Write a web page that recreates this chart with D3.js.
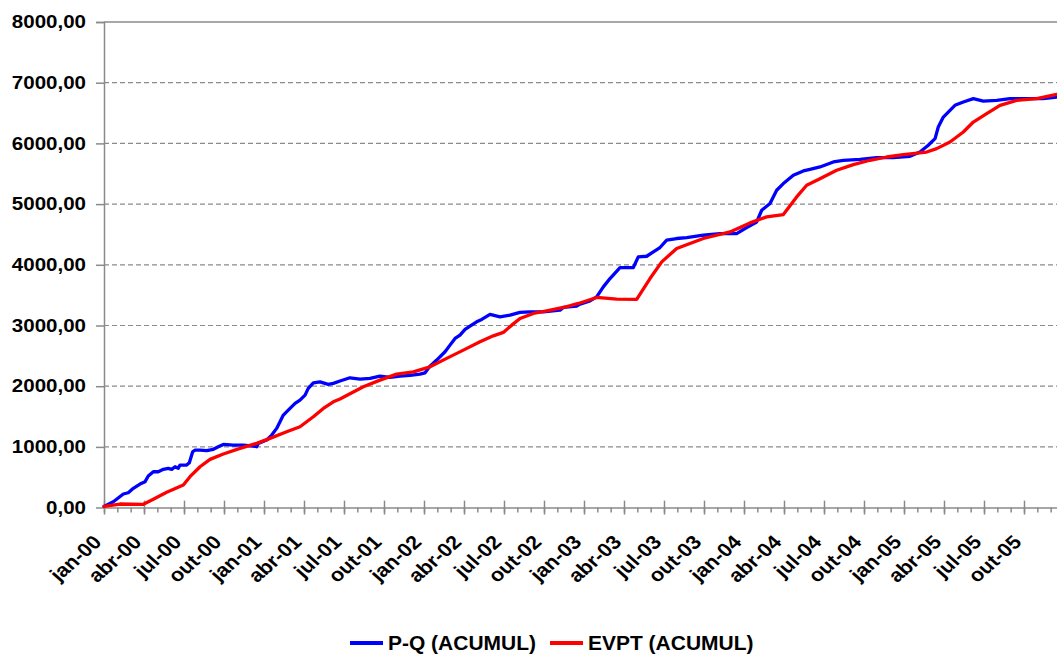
<!DOCTYPE html>
<html>
<head>
  <meta charset="utf-8">
  <script src="https://d3js.org/d3.v7.min.js"></script>
  <style>
    body {
      margin: 0;
      background: #fff;
      font-family: "Liberation Sans", Arial, sans-serif;
    }
    .axis path, .axis line { stroke: #8a8a8a; stroke-width: 1.5; }
    .axis text { font-weight: bold; fill: #000; }
    .grid line { stroke: #8a8a8a; stroke-width: 1.2; stroke-dasharray: 5,3; }
    .serie { fill: none; stroke-width: 3.3; stroke-linejoin: round; stroke-linecap: round; }
    .legend text { font-weight: bold; font-size: 19.5px; }
  </style>
</head>
<body>
  <script>
    // months since jan-00 (fractional) and accumulated values
    var pqMonth = [0, 0.7, 1.45, 1.82, 2.2, 2.7, 3.08, 3.32, 3.7, 4.07, 4.45, 4.82, 5.08, 5.33, 5.57, 5.7,
      6.2, 6.4, 6.65, 6.83, 7.2, 7.7, 8.2, 8.57, 8.95, 9.7, 10.45, 11.2, 11.45, 11.57, 12.2, 12.58,
      12.95, 13.45, 13.82, 14.33, 14.7, 15.08, 15.32, 15.7, 16.2, 16.82, 17.2, 17.7, 18.45, 19.2,
      19.95, 20.7, 21.45, 22.2, 22.95, 23.7, 24.08, 24.45, 24.95, 25.58, 25.95, 26.33, 26.7, 27.08,
      27.45, 27.95, 28.33, 28.95, 29.7, 30.45, 31.2, 31.95, 32.95, 34.2, 34.45, 35.45, 35.7, 36.45,
      36.95, 37.45, 37.95, 38.7, 39.7, 40.07, 40.7, 41.2, 41.7, 42.2, 42.95, 43.7, 44.95, 46.2,
      47.45, 48.2, 48.95, 49.33, 49.95, 50.45, 50.95, 51.7, 52.45, 52.95, 53.7, 54.7, 55.45, 56.7,
      57.95, 59.2, 60.45, 61.2, 61.82, 62.33, 62.57, 62.95, 63.45, 63.82, 64.45, 65.2, 65.95, 66.95,
      67.95, 69.2, 70.45, 71.45, 72];
    var pqValue = [20, 97, 224, 245, 318, 388, 427, 520, 591, 591, 630, 647, 630, 673, 647, 701,
      701, 739, 920, 948, 948, 937, 960, 1003, 1041, 1030, 1030, 1014, 1003, 1058, 1113, 1195,
      1305, 1524, 1607, 1717, 1771, 1853, 1964, 2056, 2072, 2030, 2046, 2085, 2139, 2117,
      2128, 2166, 2145, 2166, 2178, 2199, 2221, 2331, 2430, 2567, 2677, 2786, 2841, 2935,
      2989, 3060, 3100, 3182, 3143, 3170, 3215, 3225, 3225, 3253, 3297, 3319, 3351, 3406,
      3472, 3636, 3774, 3955, 3955, 4130, 4141, 4212, 4285, 4405, 4433, 4449, 4487, 4515,
      4515, 4614, 4706, 4899, 5009, 5228, 5338, 5475, 5546, 5572, 5612, 5694, 5722, 5738,
      5766, 5766, 5788, 5858, 5969, 6078, 6270, 6434, 6545, 6627, 6682, 6737, 6698, 6709,
      6737, 6737, 6737, 6764, 6770];

    var evptMonth = [0, 1.2, 2.95, 3.7, 4.7, 5.95, 6.45, 7.2, 7.95, 8.95, 10.2, 11.45, 12.45, 13.7,
      14.7, 15.7, 16.45, 17.2, 17.7, 19.45, 20.7, 21.95, 23.2, 24.45, 25.7, 26.95, 28.2, 29.2,
      29.95, 30.58, 31.2, 32.2, 33.2, 34.45, 35.58, 36.95, 38.45, 39.95, 40.95, 41.83, 42.95,
      44.95, 46.95, 48.45, 49.7, 50.95, 51.95, 52.7, 53.58, 53.95, 54.95, 56.2, 57.45, 58.7,
      59.95, 61.7, 62.45, 63.45, 64.45, 65.2, 66.2, 67.2, 68.45, 69.95, 71.45, 72];
    var evptValue = [20, 59, 54, 137, 252, 372, 509, 673, 795, 882, 976, 1058, 1141, 1250,
      1332, 1496, 1634, 1743, 1790, 1990, 2100, 2199, 2237, 2319, 2458, 2594, 2731, 2830,
      2886, 3006, 3116, 3198, 3241, 3297, 3363, 3462, 3434, 3429, 3774, 4048, 4268,
      4433, 4542, 4690, 4789, 4828, 5118, 5310, 5404, 5447, 5557, 5651, 5722, 5776,
      5815, 5858, 5914, 6023, 6188, 6352, 6490, 6627, 6709, 6737, 6807, 6815];

    var quarterLabels = ["jan-00", "abr-00", "jul-00", "out-00", "jan-01", "abr-01", "jul-01", "out-01",
      "jan-02", "abr-02", "jul-02", "out-02", "jan-03", "abr-03", "jul-03", "out-03",
      "jan-04", "abr-04", "jul-04", "out-04", "jan-05", "abr-05", "jul-05", "out-05"];
    var yTicks = [0, 1000, 2000, 3000, 4000, 5000, 6000, 7000, 8000];
    var seriesNames = ["P-Q (ACUMUL)", "EVPT (ACUMUL)"];
    var seriesColors = ["#0000ff", "#ff0000"];

    var w = 1057, h = 655;
    var plotLeft = 104, plotTop = 22, plotBottom = 507.6, plotRight = 1064;
    var stretch = 1.14; // the original text is drawn a bit wide

    var svg = d3.select("body").append("svg")
      .attr("width", w)
      .attr("height", h);

    var x = d3.scaleLinear().domain([0, 72]).range([plotLeft, plotRight]);
    var y = d3.scaleLinear().domain([0, 8000]).range([plotBottom, plotTop]);

    // dashed grid lines, solid one on top
    svg.append("g").attr("class", "grid")
      .selectAll("line")
      .data(yTicks.filter(function(d){ return d > 0; }))
      .enter().append("line")
        .attr("x1", plotLeft).attr("x2", plotRight)
        .attr("y1", function(d){ return y(d); })
        .attr("y2", function(d){ return y(d); })
        .style("stroke-dasharray", function(d){ return d == 8000 ? "none" : null; })
        .style("stroke-width", function(d){ return d == 8000 ? 1.5 : null; });

    // y axis
    var fmt = function(d){ return d3.format(".2f")(d).replace(".", ","); };
    svg.append("g").attr("class", "axis")
      .attr("transform", "translate(" + plotLeft + ",0)")
      .call(d3.axisLeft(y).tickValues(yTicks).tickSize(8).tickFormat(fmt))
      .call(function(g){
        g.selectAll("text")
          .style("font-size", "18px")
          .attr("x", 0)
          .attr("transform", "translate(-18,0) scale(" + stretch + ",1)");
      })
      .call(function(g){ g.selectAll(".tick").filter(function(d){ return d == 0; }).select("line").remove(); });

    // x axis: monthly minor ticks, quarterly major ticks
    var xg = svg.append("g").attr("class", "axis")
      .attr("transform", "translate(0," + plotBottom + ")");
    xg.call(d3.axisBottom(x).tickValues(d3.range(0, 72)).tickSize(5).tickSizeOuter(0).tickFormat(""));
    var xMajor = svg.append("g").attr("class", "axis")
      .attr("transform", "translate(0," + plotBottom + ")")
      .call(d3.axisBottom(x).tickValues(d3.range(0, 72, 3)).tickSize(7).tickSizeOuter(0)
        .tickFormat(function(d, i){ return quarterLabels[i]; }));
    xMajor.select(".domain").remove();
    xMajor.selectAll(".tick line").attr("y1", -7);
    xMajor.selectAll(".tick text")
      .style("font-size", "19px")
      .attr("text-anchor", "end")
      .attr("dy", "0.35em")
      .attr("transform", "translate(-7,31) scale(" + stretch + ",1) rotate(-45)")
      .attr("y", 0).attr("x", 0);

    // lines
    var series = [
      { month: pqMonth, value: pqValue },
      { month: evptMonth, value: evptValue }
    ];
    var line = d3.line()
      .x(function(d){ return x(d[0]); })
      .y(function(d){ return y(d[1]); });

    series.forEach(function(s, i){
      svg.append("path")
        .attr("class", "serie")
        .attr("stroke", seriesColors[i])
        .attr("d", line(d3.zip(s.month, s.value)));
    });

    // legend
    var legend = svg.append("g").attr("class", "legend")
      .attr("transform", "translate(350,643)");
    var offs = [0, 200];
    seriesNames.forEach(function(name, i){
      var g = legend.append("g").attr("transform", "translate(" + offs[i] + ",0)");
      g.append("line").attr("x1", 0).attr("x2", 33).attr("y1", 0).attr("y2", 0)
        .attr("stroke", seriesColors[i]).attr("stroke-width", 4);
      g.append("text")
        .attr("transform", "translate(38,7) scale(1.076,1)")
        .text(name);
    });
  </script>
</body>
</html>
